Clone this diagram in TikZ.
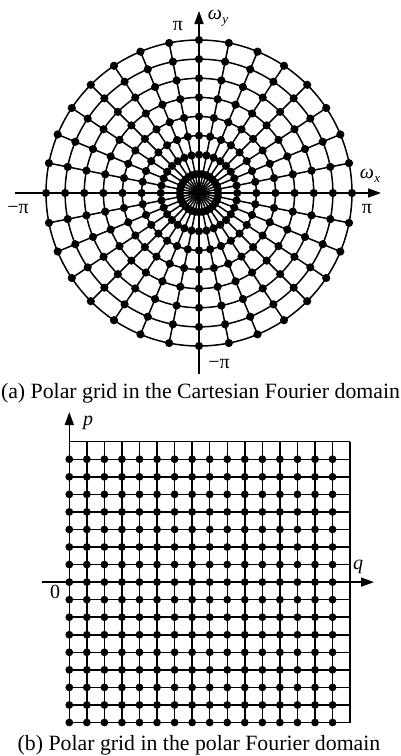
\documentclass[tikz,border=0pt]{standalone}
\usepackage{fontspec}
\setmainfont{Liberation Serif}
\usetikzlibrary{arrows.meta}
\newcommand{\sbs}[1]{\kern0.5pt\raisebox{-4.5pt}{\fontsize{13}{14}\selectfont\textit{#1}}}
\begin{document}
\begin{tikzpicture}[x=1pt,y=-1pt, line width=1.5pt,
  axis/.style={-{Triangle[length=13pt,width=9pt]}, line width=1.5pt},
  lbl/.style={font=\fontsize{20}{22}\selectfont, inner sep=0pt},
  captxt/.style={font=\fontsize{21.8}{24}\selectfont, inner sep=0pt}]
\useasboundingbox (0,0) rectangle (401,756);
% ---------- (a) polar grid ----------
\coordinate (O) at (199,193);
\foreach \a in {0,...,31} \draw (O) -- ++({\a*11.25}:153pt);
\foreach \k in {1,...,8} {
  \draw (O) circle [radius=\k*19.125pt];
  \foreach \a in {0,...,31}
    \fill (O) ++({\a*11.25}:{\k*19.125pt}) circle [radius=4.1pt];
}
\draw[axis] (15,193) -- (381,193);
\draw[axis] (199,374) -- (199,11);
\node[lbl] (piy) at (178,26) {π};
\node[lbl, anchor=west] (wy) at (207,18) {\textit{ω}\sbs{y}};
\node[lbl] (wx) at (370,176) {\textit{ω}\sbs{x}};
\node[lbl] (pix) at (367,209) {π};
\node[lbl] (mpix) at (18,209) {−π};
\node[lbl] (mpiy) at (219,364) {−π};
\node[captxt] (capa) at (200.5,393) {(a) Polar grid in the Cartesian Fourier domain};
% ---------- (b) rectangular grid ----------
\foreach \i in {0,...,16} \draw (69.3+17.55*\i, 441.7) -- (69.3+17.55*\i, 722.5);
\foreach \j in {0,...,16} \draw (69.3, 441.7+17.55*\j) -- (350.1, 441.7+17.55*\j);
\foreach \i in {0,...,15} \foreach \j in {1,...,16}
  \fill (69.3+17.55*\i, 441.7+17.55*\j) circle [radius=3.9pt];
\draw[axis] (69.3,722.5) -- (69.3,412);
\draw[axis] (41.7,582.1) -- (374,582.1);
\node[lbl] (p) at (88,423) {\textit{p}};
\node[lbl] (q) at (358,567) {\textit{q}};
\node[lbl] (zero) at (55,592) {0};
\node[captxt] (capb) at (199,745) {(b) Polar grid in the polar Fourier domain};
\end{tikzpicture}
\end{document}
